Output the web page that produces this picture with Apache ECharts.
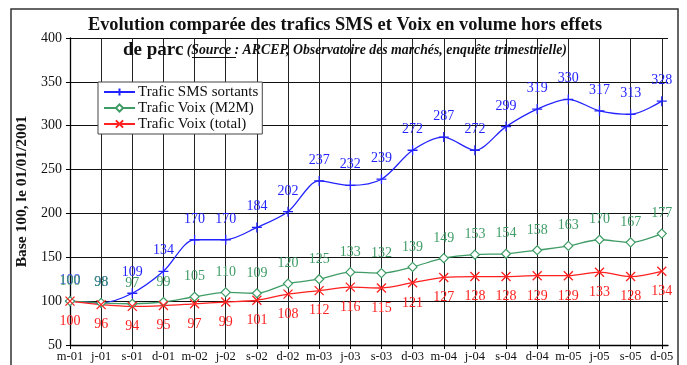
<!DOCTYPE html>
<html>
<head>
<meta charset="utf-8">
<script src="https://cdn.jsdelivr.net/npm/echarts@6/dist/echarts.min.js"></script>
<style>
  html, body { margin: 0; padding: 0; background: #fff; }
  #chart { width: 687px; height: 365px; }
</style>
</head>
<body>
<div id="chart"></div>
<script>
// Quarter labels (m = mars, j = juin, s = septembre, d = décembre)
const quarters = ['m-01', 'j-01', 's-01', 'd-01', 'm-02', 'j-02', 's-02', 'd-02',
  'm-03', 'j-03', 's-03', 'd-03', 'm-04', 'j-04', 's-04', 'd-04',
  'm-05', 'j-05', 's-05', 'd-05'];

// Index base 100 at 01/01/2001
const smsSortants = [100, 98, 109, 134, 170, 170, 184, 202, 237, 232, 239, 272,
  287, 272, 299, 319, 330, 317, 313, 328];
const voixM2M = [100, 98, 97, 99, 105, 110, 109, 120, 125, 133, 132, 139,
  149, 153, 154, 158, 163, 170, 167, 177];
const voixTotal = [100, 96, 94, 95, 97, 99, 101, 108, 112, 116, 115, 121,
  127, 128, 128, 129, 129, 133, 128, 134];

const yTicks = { min: 50, max: 400, step: 50 };

const SERIF = '"Liberation Serif", "Times New Roman", serif';
const BLUE = '#2323ff';
const GREEN = '#3f9c66';
const RED = '#ff2020';

const toPoints = arr => arr.map((v, i) => [i, v]);

const chart = echarts.init(document.getElementById('chart'), null, { renderer: 'canvas' });

function seriesDef(name, data, color, symbol, symbolSize, itemStyle, labelPos) {
  return {
    name: name,
    type: 'line',
    data: toPoints(data),
    smooth: 0.3,
    symbol: symbol,
    symbolSize: symbolSize,
    showAllSymbol: true,
    color: color,
    lineStyle: { color: color, width: 1.3 },
    itemStyle: itemStyle,
    label: {
      show: true,
      position: labelPos,
      distance: 8,
      color: color,
      fontFamily: SERIF,
      fontSize: 14,
      formatter: p => p.value[1]
    },
    emphasis: { disabled: true },
    animation: false
  };
}

const option = {
  animation: false,
  backgroundColor: '#fff',
  grid: { left: 70, right: 19, top: 38, bottom: 20, containLabel: false },
  legend: {
    orient: 'vertical',
    left: 98,
    top: 82,
    padding: [2, 4, 2, 5],
    itemGap: 0,
    itemWidth: 31,
    itemHeight: 9,
    backgroundColor: '#fff',
    borderColor: '#444',
    borderWidth: 1,
    textStyle: { fontFamily: SERIF, fontSize: 15, lineHeight: 16, color: '#111', padding: [0, 0, 0, -2] },
    data: ['Trafic SMS sortants', 'Trafic Voix (M2M)', 'Trafic Voix (total)']
  },
  xAxis: {
    type: 'value',
    min: 0,
    max: 19.2,
    interval: 1,
    axisLine: { show: true, onZero: false, lineStyle: { color: '#000', width: 1.3 } },
    axisTick: { show: true, length: 4, lineStyle: { color: '#000' } },
    axisLabel: {
      margin: 5,
      fontFamily: SERIF,
      fontSize: 12.5,
      color: '#111',
      showMaxLabel: false,
      formatter: v => (Number.isInteger(v) && quarters[v] !== undefined) ? quarters[v] : ''
    },
    splitLine: { show: true, showMaxLine: false, lineStyle: { color: '#222', width: 1 } }
  },
  yAxis: {
    type: 'value',
    min: yTicks.min,
    max: yTicks.max,
    interval: yTicks.step,
    name: 'Base 100, le 01/01/2001',
    nameLocation: 'middle',
    nameGap: 40,
    nameTextStyle: { fontFamily: SERIF, fontSize: 15.5, fontWeight: 'bold', color: '#111' },
    axisLine: { show: true, lineStyle: { color: '#000', width: 1.3 } },
    axisTick: { show: true, length: 4, lineStyle: { color: '#000' } },
    axisLabel: { margin: 8, fontFamily: SERIF, fontSize: 14, color: '#111' },
    splitLine: { show: true, lineStyle: { color: '#111', width: 1 } }
  },
  graphic: [
    {
      type: 'rect',
      shape: { x: 11, y: 9, width: 667, height: 370 },
      style: { fill: 'none', stroke: '#333', lineWidth: 1.5 },
      silent: true,
      z: 100
    },
    {
      type: 'text',
      x: 345,
      y: 25,
      style: {
        text: 'Evolution comparée des trafics SMS et Voix en volume hors effets',
        font: 'bold 18.4px ' + SERIF,
        fill: '#111',
        align: 'center',
        verticalAlign: 'middle'
      },
      z: 100
    },
    {
      type: 'text',
      x: 123,
      y: 50,
      style: {
        text: '{a|de parc} {b|(Source : ARCEP, Observatoire des marchés, enquête trimestrielle)}',
        verticalAlign: 'middle',
        rich: {
          a: { font: 'bold 19px ' + SERIF, fill: '#111' },
          b: { font: 'italic bold 13.8px ' + SERIF, fill: '#111' }
        }
      },
      z: 100
    },
    {
      type: 'line',
      shape: { x1: 192, y1: 57.5, x2: 236, y2: 57.5 },
      style: { stroke: '#111', lineWidth: 1 },
      z: 100
    }
  ],
  series: [
    seriesDef('Trafic SMS sortants', smsSortants, BLUE,
      'path://M0,5L10,5M5,0L5,10', 10,
      { color: BLUE, borderColor: BLUE, borderWidth: 1.3 }, 'top'),
    seriesDef('Trafic Voix (M2M)', voixM2M, GREEN,
      'diamond', 9,
      { color: '#fff', borderColor: GREEN, borderWidth: 1.2 }, 'top'),
    seriesDef('Trafic Voix (total)', voixTotal, RED,
      'path://M0,0L10,10M10,0L0,10', 9,
      { color: RED, borderColor: RED, borderWidth: 1.3 }, 'bottom')
  ]
};

chart.setOption(option);
</script>
</body>
</html>
